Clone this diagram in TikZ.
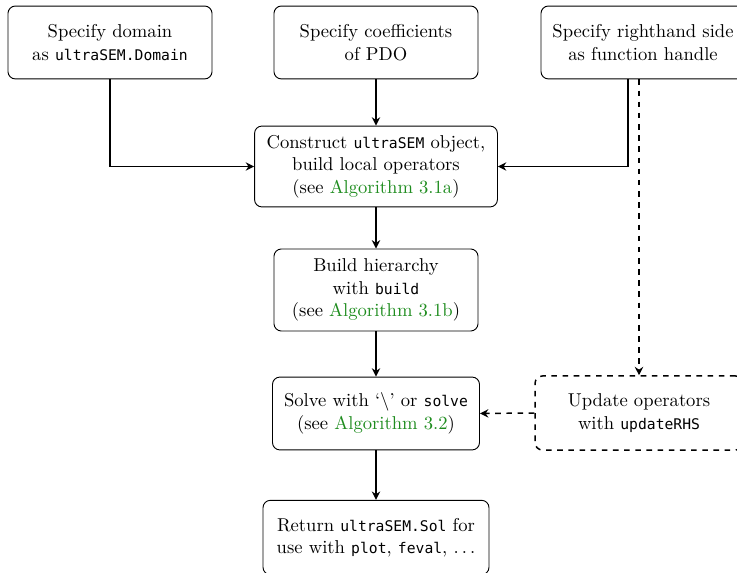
\documentclass[tikz,border=0pt]{standalone}
\usepackage{fontspec}
\setmonofont[Scale=0.79]{DejaVu Sans Mono}
\usetikzlibrary{arrows.meta}
\definecolor{algogreen}{RGB}{30,140,30}
\newcommand{\algref}[1]{\textcolor{algogreen}{Algorithm #1}}
\begin{document}
\begin{tikzpicture}[x=0.5376pt,y=-0.5376pt,
  box/.style={draw, rounded corners=4pt, line width=0.5pt, align=center, inner sep=2pt},
  dbox/.style={box, dashed, line width=0.8pt},
  conn/.style={line width=0.8pt, -{Stealth[length=4.5pt,width=4.5pt]}},
  dconn/.style={conn, dashed}]
\clip (0,0) rectangle (737,573);
\node[box, minimum width=109.7pt, minimum height=39.2pt] (dom) at (110,42.5)
  {Specify domain\\as \texttt{ultraSEM.Domain}};
\node[box, minimum width=109.7pt, minimum height=39.2pt] (pdo) at (376,42.5)
  {Specify coefficients\\of PDO};
\node[box, minimum width=109.7pt, minimum height=39.2pt] (rhs) at (643,42.5)
  {Specify righthand side\\as function handle};
\node[box, minimum width=130.6pt, minimum height=43.5pt] (con) at (376,166.5)
  {Construct \texttt{ultraSEM} object,\\build local operators\\(see \algref{3.1a})};
\node[box, minimum width=109.7pt, minimum height=44.1pt] (bld) at (376,290)
  {Build hierarchy\\with \texttt{build}\\(see \algref{3.1b})};
\node[box, minimum width=111.3pt, minimum height=39.2pt] (sol) at (376,413.5)
  {Solve with `\textbackslash' or \texttt{solve}\\(see \algref{3.2})};
\node[dbox, minimum width=111.8pt, minimum height=39.8pt] (upd) at (639,413)
  {Update operators\\with \texttt{updateRHS}};
\node[box, minimum width=121.5pt, minimum height=40pt] (ret) at (376,537.5)
  {Return \texttt{ultraSEM.Sol} for\\use with \texttt{plot}, \texttt{feval}, $\ldots$};
\coordinate (rhsout) at ([xshift=-8pt]rhs.south);
\draw[conn] (dom.south) |- (con.west);
\draw[conn] (pdo.south) -- (con.north);
\draw[conn] (rhsout) |- (con.east);
\draw[conn] (con.south) -- (bld.north);
\draw[conn] (bld.south) -- (sol.north);
\draw[conn] (sol.south) -- (ret.north);
\draw[dconn] (upd.north |- rhs.south) -- (upd.north);
\draw[dconn] (upd.west) -- (sol.east);
\end{tikzpicture}
\end{document}
